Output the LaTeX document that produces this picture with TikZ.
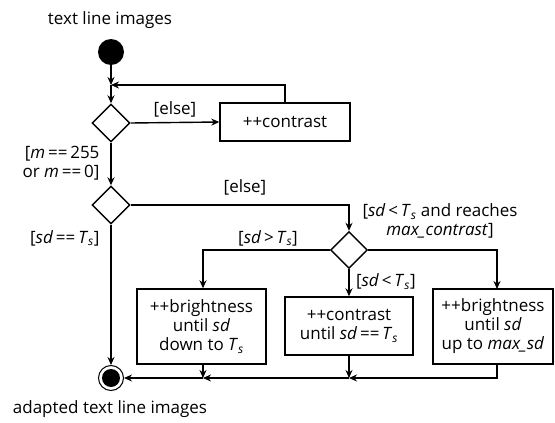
\documentclass[tikz,border=0pt]{standalone}
\usepackage{fontspec}
\setmainfont{Open Sans}
\usetikzlibrary{arrows.meta,shapes.geometric,calc}
\newcommand{\Tsub}{\textit{T}\textsubscript{\textit{s}}}
\newcommand{\sdv}{\textit{sd}}
\begin{document}
\begin{tikzpicture}[x=1pt,y=-1pt,
  every node/.style={font=\fontsize{17}{19}\selectfont},
  flow/.style={line width=1.4pt,-{Stealth[length=8pt,width=7pt]}},
  decision/.style={draw,line width=1.4pt,diamond,minimum width=38pt,minimum height=38pt,inner sep=0pt},
  action/.style={draw,line width=1.4pt,rectangle,align=center,inner sep=2pt}]
\useasboundingbox (0,0) rectangle (555,423);
\node (title) at (110,20) {text line images};
\node[circle,fill=black,minimum size=26pt,inner sep=0pt] (start) at (111,52) {};
\coordinate (mtop) at (111,85);
\node[decision] (d1) at (111,123) {};
\node[action,minimum width=130pt,minimum height=38pt] (c1) at (285,122) {++contrast};
\node[decision] (d2) at (111,205) {};
\node[decision,minimum width=37pt,minimum height=37pt] (d3) at (349,250) {};
\node[action,minimum width=129pt,minimum height=75pt] (b1) at (201.5,326.5) {++brightness\\until \sdv\\down to \Tsub};
\node[action,minimum width=128pt,minimum height=58pt] (b2) at (349,326) {++contrast\\until \sdv\,==\,\Tsub};
\node[action,minimum width=120pt,minimum height=75pt] (b3) at (493,326.5) {++brightness\\until \sdv\\up to \textit{max\_sd}};
\coordinate (m1) at (203,378);
\coordinate (m2) at (349,378);
\node[circle,draw,line width=1pt,minimum size=25pt,inner sep=0pt] (end) at (111,378) {};
\node[circle,fill=black,minimum size=18pt,inner sep=0pt] at (end) {};
\node (endlbl) at (110,409) {adapted text line images};
% connectors
\draw[flow] (start) -- (mtop);
\draw[flow] (c1.north) |- (mtop);
\draw[flow] (mtop) -- (d1.north);
\draw[flow] (d1.east) -- node[above=1pt] {[else]} (c1.west);
\draw[flow] (d1.south) -- (d2.north);
\node[anchor=east,align=right] (lm) at (103,163) {[\textit{m}\,==\,255\\or \textit{m}\,==\,0]};
\draw[flow] (d2.east) -| (d3.north);
\node at (245,187) {[else]};
\draw[flow] (d2.south) -- (end.north);
\node[anchor=east] (lsd) at (103,238) {[\sdv\,==\,\Tsub]};
\node[align=center] at (440,221) {[\sdv\,<\,\Tsub\ and reaches\\\textit{max\_contrast}]};
\draw[flow] (d3.west) -| (b1.north -| m1);
\node at (268,238) {[\sdv\,>\,\Tsub]};
\draw[flow] (d3.east) -| (497,289);
\draw[flow] (d3.south) -- node[right=3pt,pos=0.45] {[\sdv\,<\,\Tsub]} (b2.north);
\draw[flow] (497,364) |- (m2);
\draw[flow] (b2.south) -- (m2);
\draw[flow] (m2) -- (m1);
\draw[flow] (b1.south -| m1) -- (m1);
\draw[flow] (m1) -- (end.east);
\end{tikzpicture}
\end{document}
